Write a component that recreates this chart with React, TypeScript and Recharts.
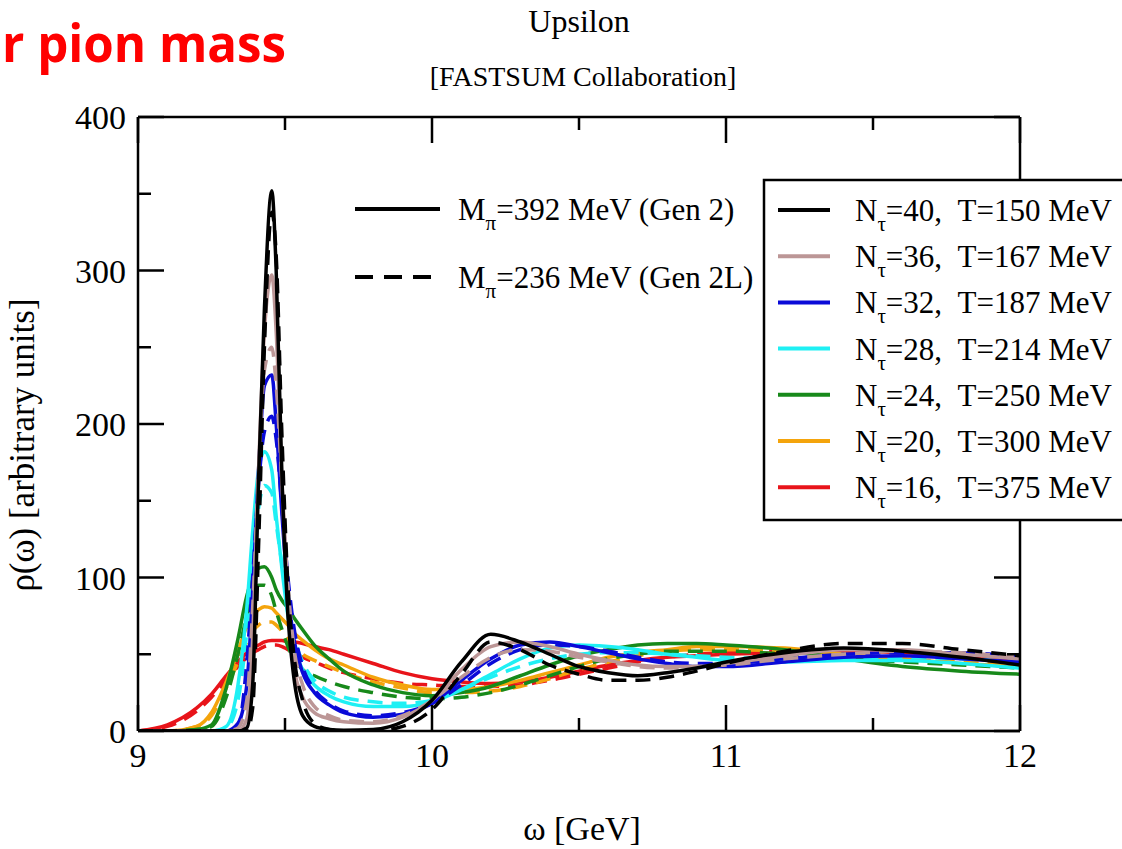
import React from 'react'
import { LineChart, Line, XAxis, YAxis } from 'recharts'

// ω grid (GeV), denser around the Upsilon peak
const omega = [
  9.0, 9.1, 9.2, 9.25, 9.3,
  9.34, 9.37, 9.39, 9.41, 9.43,
  9.455, 9.47, 9.49, 9.51, 9.53,
  9.56, 9.6, 9.65, 9.7, 9.8,
  9.9, 10.0, 10.1, 10.2, 10.3,
  10.4, 10.5, 10.6, 10.7, 10.8,
  10.9, 11.0, 11.2, 11.4, 11.6,
  11.8, 12.0,
]

// Gen 2 (solid) and Gen 2L (dashed), one pair per Nτ
const nt40Gen2 = [0, 0, 0, 0, 0, 0, 2, 30, 163, 275, 352, 300, 163, 75, 35, 10, 3, 1, 0.5, 1, 6, 20, 45, 63, 58, 50, 42, 38, 36, 38, 41, 45, 51, 54, 52, 48, 43]
const nt40Gen2L = [0, 0, 0, 0, 0, 0, 0, 15, 120, 250, 338, 310, 190, 95, 50, 20, 5, 1, 0, 0, 3, 14, 37, 58, 53, 43, 37, 33, 33, 35, 39, 44, 52, 57, 57, 53, 49]
const nt36Gen2 = [0, 0, 0, 0, 0, 0, 8, 60, 170, 260, 297, 260, 160, 80, 42, 22, 12, 8, 6, 5, 9, 20, 40, 55, 58, 55, 50, 46, 43, 42, 42, 44, 49, 53, 53, 50, 47]
const nt36Gen2L = [0, 0, 0, 0, 0, 2, 20, 80, 170, 235, 250, 225, 160, 95, 55, 30, 16, 10, 7, 6, 10, 20, 35, 48, 53, 52, 48, 45, 42, 41, 42, 43, 47, 50, 52, 51, 48]
const nt32Gen2 = [0, 0, 0, 0, 0, 5, 30, 90, 170, 225, 232, 200, 140, 90, 60, 38, 25, 17, 12, 9, 11, 18, 33, 47, 56, 58, 55, 51, 47, 44, 42, 42, 45, 48, 49, 47, 45]
const nt32Gen2L = [0, 0, 0, 0, 0, 3, 45, 100, 160, 195, 205, 190, 145, 100, 68, 42, 27, 18, 13, 10, 12, 18, 30, 44, 53, 56, 55, 52, 48, 45, 44, 44, 47, 50, 51, 51, 48]
const nt28Gen2 = [0, 0, 0, 0, 3, 30, 80, 130, 170, 182, 170, 140, 105, 75, 55, 40, 30, 23, 19, 16, 16, 19, 27, 37, 47, 54, 56, 55, 53, 50, 48, 46, 45, 46, 46, 44, 41]
const nt28Gen2L = [0, 0, 0, 0, 2, 20, 65, 110, 145, 160, 155, 135, 108, 82, 62, 45, 33, 26, 22, 19, 18, 20, 27, 35, 42, 47, 50, 51, 51, 50, 49, 48, 47, 48, 48, 47, 45]
const nt24Gen2 = [0, 0, 1, 4, 28, 60, 88, 100, 106, 107, 100, 92, 85, 80, 74, 66, 56, 47, 39, 30, 25, 23, 25, 29, 36, 43, 49, 53, 56, 57, 57, 56, 53, 47, 42, 39, 37]
const nt24Gen2L = [0, 0, 1, 3, 22, 50, 75, 88, 95, 95, 88, 78, 66, 55, 47, 40, 36, 32, 29, 25, 22, 21, 22, 25, 30, 36, 42, 47, 50, 52, 52, 52, 50, 47, 45, 43, 41]
const nt20Gen2 = [0, 0, 3, 12, 32, 52, 68, 75, 79, 81, 80, 77, 73, 69, 64, 59, 53, 47, 43, 35, 30, 27, 27, 29, 33, 38, 43, 48, 51, 53, 55, 55, 54, 50, 47, 44, 42]
const nt20Gen2L = [0, 0, 3, 10, 28, 45, 58, 65, 69, 71, 71, 69, 65, 60, 55, 50, 46, 42, 38, 32, 28, 25, 25, 26, 29, 34, 40, 45, 49, 52, 53, 53, 52, 50, 47, 45, 43]
const nt16Gen2 = [0, 4, 15, 24, 36, 45, 51, 54, 56, 58, 59, 59, 59, 58, 58, 57, 55, 53, 50, 44, 38, 34, 32, 31, 32, 35, 39, 43, 46, 48, 49, 50, 51, 52, 51, 49, 46]
const nt16Gen2L = [0, 3, 13, 22, 33, 42, 48, 51, 53, 55, 56, 56, 55, 53, 51, 48, 45, 41, 38, 34, 31, 30, 29, 29, 30, 33, 37, 41, 45, 48, 50, 51, 52, 52, 51, 50, 48]

const ntau = [40, 36, 32, 28, 24, 20, 16]
const tempMeV = [150, 167, 187, 214, 250, 300, 375]
const colors = ['#000000', '#bc9696', '#0a0ad8', '#1ff0f4', '#17891a', '#f4a40c', '#e8141a']
const solidSets = [nt40Gen2, nt36Gen2, nt32Gen2, nt28Gen2, nt24Gen2, nt20Gen2, nt16Gen2]
const dashedSets = [nt40Gen2L, nt36Gen2L, nt32Gen2L, nt28Gen2L, nt24Gen2L, nt20Gen2L, nt16Gen2L]

const xTicks = [9, 9.5, 10, 10.5, 11, 11.5, 12]
const yTicks = [0, 50, 100, 150, 200, 250, 300, 350, 400]

const rows = omega.map((w, i) => {
  const r: Record<string, number> = { w }
  ntau.forEach((n, k) => {
    r[`s${n}`] = solidSets[k][i]
    r[`d${n}`] = dashedSets[k][i]
  })
  return r
})

const FONT = '"Liberation Serif", "DejaVu Serif", serif'

function makeTick(side: 'bottom' | 'top' | 'left' | 'right') {
  return (props: any) => {
    const { x, y, payload } = props
    const v = payload.value
    const horiz = side === 'bottom' || side === 'top'
    const major = horiz ? Number.isInteger(v) : v % 100 === 0
    const len = major ? 26 : 13
    let line
    if (side === 'bottom') line = <line x1={x} y1={y} x2={x} y2={y - len} />
    else if (side === 'top') line = <line x1={x} y1={y} x2={x} y2={y + len} />
    else if (side === 'left') line = <line x1={x} y1={y} x2={x + len} y2={y} />
    else line = <line x1={x} y1={y} x2={x - len} y2={y} />
    return (
      <g stroke="#000" strokeWidth={2.5}>
        {line}
        {side === 'bottom' && major && (
          <text x={x} y={y + 36} textAnchor="middle" fontSize={34} fontFamily={FONT} fill="#000" stroke="none">{v}</text>
        )}
        {side === 'left' && major && (
          <text x={x - 12} y={y + 12} textAnchor="end" fontSize={34} fontFamily={FONT} fill="#000" stroke="none">{v}</text>
        )}
      </g>
    )
  }
}

function Overlay() {
  return (
    <svg width={1122} height={849} style={{ position: 'absolute', left: 0, top: 0, pointerEvents: 'none' }}>
      <text x={2} y={62} textLength={284} lengthAdjust="spacingAndGlyphs" fontSize={52} fontWeight="bold"
        fontFamily='"Open Sans", sans-serif' fill="#ff0000">r pion mass</text>
      <text x={579} y={32} textAnchor="middle" fontSize={32} fontFamily={FONT}>Upsilon</text>
      <text x={583} y={86} textAnchor="middle" fontSize={28} fontFamily={FONT}>[FASTSUM Collaboration]</text>
      <text x={582} y={840} textAnchor="middle" fontSize={34} fontFamily={FONT}>ω [GeV]</text>
      <text x={34} y={445} textAnchor="middle" fontSize={35} fontFamily={FONT} transform="rotate(-90 34 445)">ρ(ω) [arbitrary units]</text>

      {/* generation legend */}
      <line x1={355} y1={209} x2={440} y2={209} stroke="#000" strokeWidth={4} />
      <text x={458} y={220} fontSize={31} fontFamily={FONT}>
        M<tspan fontSize={21} dy={10}>π</tspan><tspan dy={-10}>=392 MeV (Gen 2)</tspan>
      </text>
      <line x1={355} y1={277} x2={440} y2={277} stroke="#000" strokeWidth={4} strokeDasharray="18 11" />
      <text x={458} y={288} fontSize={31} fontFamily={FONT}>
        M<tspan fontSize={21} dy={10}>π</tspan><tspan dy={-10}>=236 MeV (Gen 2L)</tspan>
      </text>

      {/* temperature legend */}
      <rect x={764} y={180} width={380} height={340} fill="#fff" stroke="#000" strokeWidth={2.5} />
      {ntau.map((n, k) => {
        const ly = 210 + k * 46.2
        return (
          <g key={n}>
            <line x1={778} y1={ly} x2={830} y2={ly} stroke={colors[k]} strokeWidth={4} />
            <text x={855} y={ly + 11} fontSize={31} fontFamily={FONT}>
              N<tspan fontSize={21} dy={10}>τ</tspan>
              <tspan dy={-10}>{`=${n},\u00a0\u00a0T=${tempMeV[k]} MeV`}</tspan>
            </text>
          </g>
        )
      })}
    </svg>
  )
}

export default function App() {
  return (
    <div style={{ position: 'absolute', left: 0, top: 0, width: 1122, height: 849, background: '#fff' }}>
      <LineChart width={1122} height={849} data={rows} margin={{ top: 107, right: 92, bottom: 58, left: 38 }}>
        <XAxis
          xAxisId="b" dataKey="w" type="number" domain={[9, 12]} ticks={xTicks} interval={0}
          height={60} tickSize={0} tickMargin={0} tickLine={false}
          axisLine={{ stroke: '#000', strokeWidth: 2.5 }} tick={makeTick('bottom')} allowDataOverflow
        />
        <XAxis
          xAxisId="t" orientation="top" dataKey="w" type="number" domain={[9, 12]} ticks={xTicks} interval={0}
          height={10} tickSize={0} tickMargin={0} tickLine={false}
          axisLine={{ stroke: '#000', strokeWidth: 2.5 }} tick={makeTick('top')} allowDataOverflow
        />
        <YAxis
          yAxisId="l" type="number" domain={[0, 400]} ticks={yTicks} interval={0}
          width={100} tickSize={0} tickMargin={0} tickLine={false}
          axisLine={{ stroke: '#000', strokeWidth: 2.5 }} tick={makeTick('left')} allowDataOverflow
        />
        <YAxis
          yAxisId="r" orientation="right" type="number" domain={[0, 400]} ticks={yTicks} interval={0}
          width={10} tickSize={0} tickMargin={0} tickLine={false}
          axisLine={{ stroke: '#000', strokeWidth: 2.5 }} tick={makeTick('right')} allowDataOverflow
        />
        {ntau.slice().reverse().flatMap((n) => {
          const k = ntau.indexOf(n)
          return [
            <Line key={`s${n}`} xAxisId="b" yAxisId="l" dataKey={`s${n}`} type="monotone" stroke={colors[k]}
              strokeWidth={3.5} dot={false} activeDot={false} isAnimationActive={false} />,
            <Line key={`d${n}`} xAxisId="b" yAxisId="l" dataKey={`d${n}`} type="monotone" stroke={colors[k]}
              strokeWidth={3.5} strokeDasharray="15 9" dot={false} activeDot={false} isAnimationActive={false} />,
          ]
        })}
      </LineChart>
      <Overlay />
    </div>
  )
}
